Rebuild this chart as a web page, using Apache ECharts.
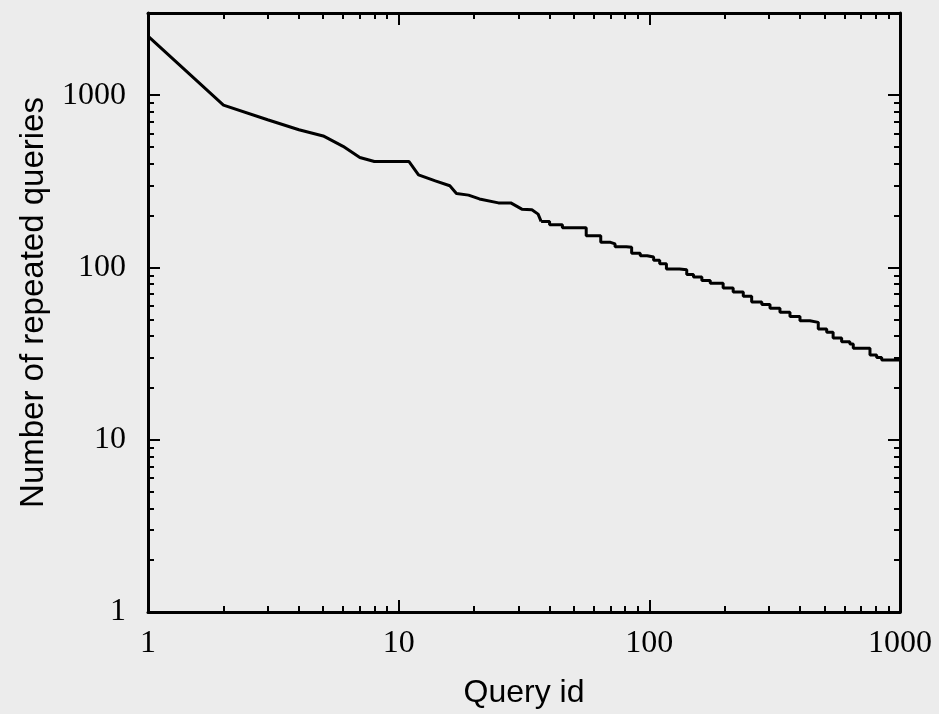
<!DOCTYPE html>
<html>
<head>
<meta charset="utf-8">
<script src="https://cdn.jsdelivr.net/npm/echarts@6/dist/echarts.min.js"></script>
<style>
  html, body { margin: 0; padding: 0; background: #ececec; }
  #chart { width: 939px; height: 714px; }
</style>
</head>
<body>
<div id="chart"></div>
<script>
// head of the curve: plain line segments
var headIds = [1, 2, 3, 4, 5, 6, 7, 8, 9, 10, 11, 12, 14, 16, 17, 19, 21, 25, 28, 31, 34, 36, 37];
var headCounts = [2200, 875, 720, 630, 580, 505, 435, 412, 412, 412, 412, 345, 318, 298, 269, 263, 250, 237, 237, 218, 216, 204, 185];

// tail of the curve: stair steps
var tailIds = [37, 40, 45, 53, 56, 64, 70, 73, 81, 85, 92, 98, 104, 110, 117, 132, 141, 150, 162, 175, 197, 216, 237, 256, 281, 303, 332, 364, 399, 437, 472, 510, 541, 585, 631, 651, 724, 759, 807, 845, 1000];
var tailCounts = [185, 177, 170, 170, 153, 140, 137, 132, 131, 121, 117, 115, 110, 105, 98, 97, 91, 88, 84, 81, 76, 72, 68, 63, 61, 58, 55, 52, 49, 48, 44, 42, 39, 37, 36, 34, 34, 31, 30, 29, 28.5];

var xLabels = [1, 10, 100, 1000];
var xMinor = [2, 3, 4, 5, 6, 7, 8, 9, 20, 30, 40, 50, 60, 70, 80, 90, 200, 300, 400, 500, 600, 700, 800, 900];
var yLabels = [1, 10, 100, 1000];
var yMinor = [2, 3, 4, 5, 6, 7, 8, 9, 20, 30, 40, 50, 60, 70, 80, 90, 200, 300, 400, 500, 600, 700, 800, 900];

function zip(a, b) {
  var out = [];
  for (var i = 0; i < a.length; i++) out.push([a[i], b[i]]);
  return out;
}

var labelFont = { fontFamily: 'Liberation Serif', fontSize: 32, color: '#000' };

function makeAxis(pos, min, max, ticks, len, showLine, labels) {
  var ax = {
    type: 'log', logBase: 10, min: min, max: max, position: pos,
    splitLine: { show: false },
    axisLine: { show: showLine, lineStyle: { color: '#000', width: 3 } },
    axisTick: { show: true, inside: true, length: len, customValues: ticks,
                lineStyle: { color: '#000', width: 2 } },
    axisLabel: { show: false }
  };
  if (labels) {
    ax.axisLabel = {
      show: true, customValues: labels,
      fontFamily: labelFont.fontFamily, fontSize: labelFont.fontSize, color: labelFont.color,
      formatter: function (v) { return String(Math.round(v)); }
    };
  }
  return ax;
}

var xMain = makeAxis('bottom', 1, 1000, xLabels, 12, true, xLabels);
xMain.name = 'Query id';
xMain.nameLocation = 'middle';
xMain.nameGap = 65;
xMain.nameTextStyle = { fontFamily: 'Liberation Sans', fontSize: 32, color: '#000' };
xMain.axisLabel.margin = 16;

var yMain = makeAxis('left', 1, 3000, yLabels, 12, true, yLabels);
yMain.name = 'Number of repeated queries';
yMain.nameLocation = 'middle';
yMain.nameGap = 98;
yMain.nameTextStyle = { fontFamily: 'Liberation Sans', fontSize: 33, color: '#000', padding: [0, 0, 0, 20] };
yMain.axisLabel.margin = 22;

var option = {
  backgroundColor: '#ececec',
  animation: false,
  grid: { left: 148, right: 39, top: 13, bottom: 101 },
  xAxis: [
    xMain,
    makeAxis('bottom', 1, 1000, xMinor, 6, false, null),
    makeAxis('top', 1, 1000, xLabels, 12, true, null),
    makeAxis('top', 1, 1000, xMinor, 6, false, null)
  ],
  yAxis: [
    yMain,
    makeAxis('left', 1, 3000, yMinor, 6, false, null),
    makeAxis('right', 1, 3000, yLabels, 12, true, null),
    makeAxis('right', 1, 3000, yMinor, 6, false, null)
  ],
  series: [
    {
      type: 'line', xAxisIndex: 0, yAxisIndex: 0,
      data: zip(headIds, headCounts),
      showSymbol: false,
      lineStyle: { color: '#000', width: 3 }
    },
    {
      type: 'line', xAxisIndex: 0, yAxisIndex: 0,
      data: zip(tailIds, tailCounts),
      step: 'end',
      showSymbol: false,
      lineStyle: { color: '#000', width: 3 }
    }
  ]
};

var myChart = echarts.init(document.getElementById('chart'));
myChart.setOption(option);
</script>
</body>
</html>
